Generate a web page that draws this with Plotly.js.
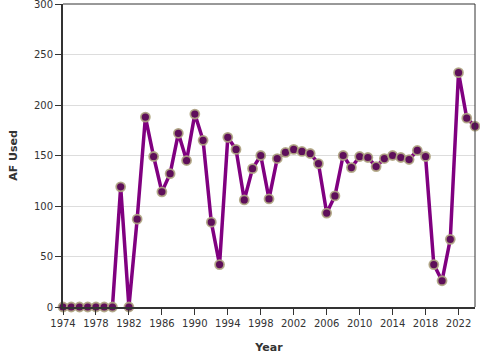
<!DOCTYPE html>
<html>
<head>
<meta charset="utf-8">
<script src="https://cdn.plot.ly/plotly-3.0.1.min.js"></script>
<style>html,body{margin:0;padding:0;background:#fff}#chart{width:480px;height:360px}</style>
</head>
<body>
<div id="chart"></div>
<script>
const years = [1974,1975,1976,1977,1978,1979,1980,1981,1982,1983,1984,1985,1986,1987,1988,1989,1990,1991,1992,1993,1994,1995,1996,1997,1998,1999,2000,2001,2002,2003,2004,2005,2006,2007,2008,2009,2010,2011,2012,2013,2014,2015,2016,2017,2018,2019,2020,2021,2022,2023,2024];
const afUsed = [0,0,0,0,0,0,0,119,0,87,188,149,114,132,172,145,191,165,84,42,168,156,106,137,150,107,147,153,156,154,152,142,93,110,150,138,149,148,139,147,150,148,146,155,149,42,26,67,232,187,179];
const xTicks = [1974,1978,1982,1986,1990,1994,1998,2002,2006,2010,2014,2018,2022];
const yTicks = [0,50,100,150,200,250,300];

const trace = {
  x: years, y: afUsed, type: 'scatter', mode: 'lines+markers',
  line: {color: '#800080', width: 3.5},
  marker: {size: 9, color: '#5e0f5a', line: {color: 'rgba(175,165,130,0.9)', width: 1.8}},
  cliponaxis: false, hoverinfo: 'x+y'
};
const layout = {
  width: 480, height: 360,
  margin: {l: 63, r: 5, t: 4, b: 53},
  paper_bgcolor: '#fff', plot_bgcolor: '#fff',
  font: {family: 'DejaVu Sans, sans-serif', size: 10, color: '#333'},
  showlegend: false,
  xaxis: {
    range: [1974, 2024], tickvals: xTicks, ticktext: xTicks.map(String),
    showgrid: false, zeroline: false, showline: true, linecolor: '#333', linewidth: 2,
    mirror: false, ticks: 'outside', ticklen: 6, tickcolor: '#333', tickwidth: 1,
    tickfont: {size: 10, color: '#333'}, ticklabeloverflow: 'allow',
    title: {text: '<b>Year</b>', font: {size: 11, color: '#333'}, standoff: 15}
  },
  yaxis: {
    range: [0, 300], tickvals: yTicks, ticktext: yTicks.map(String),
    showgrid: true, gridcolor: '#ddd', gridwidth: 1, zeroline: false,
    showline: true, linecolor: '#333', linewidth: 2, mirror: false,
    ticks: 'outside', ticklen: 6, tickcolor: '#333', tickwidth: 1,
    tickfont: {size: 10, color: '#333'}, ticklabeloverflow: 'allow',
    title: {text: '<b>AF Used</b>', font: {size: 11, color: '#333'}, standoff: 14}
  },
  shapes: [
    {type: 'line', xref: 'paper', yref: 'paper', x0: 0, x1: 1, y0: 1, y1: 1, line: {color: '#333', width: 1}},
    {type: 'line', xref: 'paper', yref: 'paper', x0: 1, x1: 1, y0: 0, y1: 1, line: {color: '#333', width: 1}}
  ]
};
Plotly.newPlot('chart', [trace], layout, {displayModeBar: false, staticPlot: true});
</script>
</body>
</html>
